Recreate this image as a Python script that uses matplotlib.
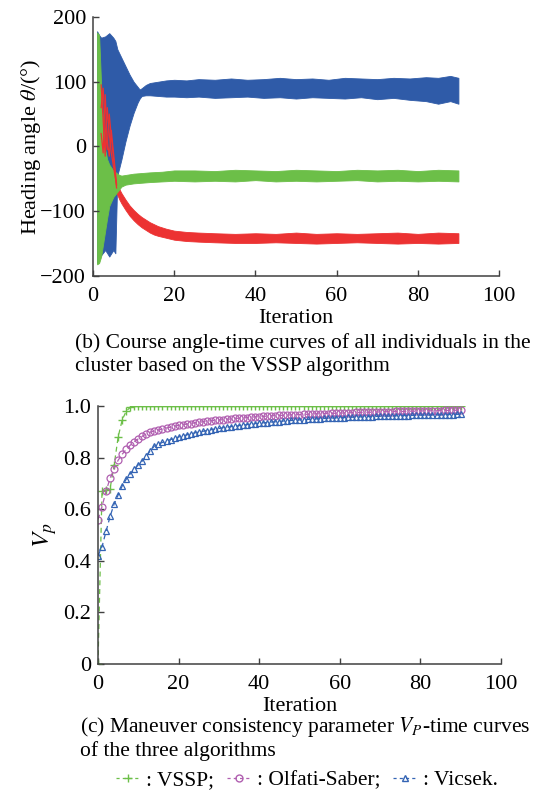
import matplotlib
matplotlib.use("Agg")
import matplotlib.pyplot as plt
from matplotlib.lines import Line2D

plt.rcParams["font.family"] = ["Liberation Serif", "DejaVu Serif"]
plt.rcParams["mathtext.fontset"] = "stix"
plt.rcParams["font.size"] = 16

BLUE = "#2f5ba8"
RED = "#ec3232"
GREEN = "#6cbf48"

# --- (b) heading angle bands: iteration, upper edge, lower edge ---
blue_x = [1, 1.5, 2, 3, 4, 5, 5.5, 6, 7, 8, 9, 10, 11, 11.5, 12, 13, 14, 16, 18, 20,
          23, 26, 30, 34, 38, 42, 46, 50, 54, 58, 62, 66, 70, 74, 78, 82, 85, 88, 90]
blue_hi = [178, 172, 168, 170, 175, 168, 163, 150, 137, 124, 111, 100, 92, 88, 90, 95, 98, 100, 102, 103,
           102, 104, 103, 105, 103, 104, 106, 104, 105, 103, 106, 105, 104, 106, 105, 107, 106, 109, 106]
blue_lo = [-180, -172, -168, -160, -170, -160, -165, -45, -20, 8, 32, 52, 68, 74, 78, 79, 79, 78, 77, 77,
           76, 77, 75, 76, 77, 75, 76, 74, 76, 75, 74, 76, 73, 75, 72, 70, 66, 70, 66]

red_x = [5.8, 6.5, 7, 8, 9, 10, 11, 12, 13, 14, 15, 16, 18, 20, 23, 26, 30, 35, 40,
         45, 50, 55, 60, 65, 70, 75, 80, 85, 90]
red_hi = [-56, -66, -72, -82, -91, -98, -104, -109, -113, -117, -120, -123, -127, -130, -132, -133, -134, -135, -134,
          -135, -133, -135, -134, -135, -134, -133, -135, -133, -134]
red_lo = [-72, -82, -88, -98, -107, -114, -120, -125, -129, -133, -136, -138, -141, -144, -146, -147, -148, -149, -149,
          -148, -149, -150, -149, -148, -149, -150, -149, -150, -149]

# a few individual red trajectories in the transient phase
red_lines_x = [2, 2.5, 3, 3.5, 4, 4.5, 5.8]
red_lines_y = [
    [95, 40, -15, 60, 20, -10, -60],
    [60, 90, 30, -5, 50, 15, -64],
    [20, -10, 80, 10, -15, 25, -58],
]

green_x = [1, 1.5, 2, 2.5, 3, 3.5, 4, 5, 6, 6.5, 7, 8, 10, 12, 14, 17, 20, 25, 30,
           35, 40, 45, 50, 55, 60, 65, 70, 75, 80, 85, 90]
green_hi = [176, 172, 95, 30, -5, -20, -28, -37, -42, -44, -45, -44, -42, -41, -40, -39, -37, -37, -38,
            -36, -37, -38, -36, -37, -38, -36, -37, -36, -38, -36, -37]
green_lo = [-182, -180, -170, -150, -130, -110, -92, -78, -70, -66, -62, -59, -57, -56, -55, -54, -53, -54, -53,
            -54, -52, -54, -53, -54, -53, -52, -54, -53, -54, -53, -54]

# --- (c) consistency parameter V_p ---
iteration = list(range(0, 91))
vssp = [0.0, 0.67, 0.675, 0.68, 0.77, 0.88, 0.946, 0.98, 0.995, 1.0,
        1.0, 1.0, 1.0, 1.0, 1.0, 1.0, 1.0, 1.0, 1.0, 1.0,
        1.0, 1.0, 1.0, 1.0, 1.0, 1.0, 1.0, 1.0, 1.0, 1.0,
        1.0, 1.0, 1.0, 1.0, 1.0, 1.0, 1.0, 1.0, 1.0, 1.0,
        1.0, 1.0, 1.0, 1.0, 1.0, 1.0, 1.0, 1.0, 1.0, 1.0,
        1.0, 1.0, 1.0, 1.0, 1.0, 1.0, 1.0, 1.0, 1.0, 1.0,
        1.0, 1.0, 1.0, 1.0, 1.0, 1.0, 1.0, 1.0, 1.0, 1.0,
        1.0, 1.0, 1.0, 1.0, 1.0, 1.0, 1.0, 1.0, 1.0, 1.0,
        1.0, 1.0, 1.0, 1.0, 1.0, 1.0, 1.0, 1.0, 1.0, 1.0, 1.0]
olfati = [0.56, 0.61, 0.67, 0.72, 0.757, 0.79, 0.813, 0.832, 0.848, 0.862,
          0.873, 0.883, 0.892, 0.899, 0.903, 0.907, 0.911, 0.915, 0.918, 0.922,
          0.925, 0.928, 0.930, 0.932, 0.935, 0.937, 0.939, 0.941, 0.943, 0.944,
          0.946, 0.947, 0.949, 0.950, 0.952, 0.953, 0.954, 0.955, 0.957, 0.958,
          0.959, 0.960, 0.961, 0.962, 0.963, 0.964, 0.964, 0.965, 0.966, 0.966,
          0.967, 0.968, 0.968, 0.969, 0.970, 0.970, 0.971, 0.971, 0.972, 0.972,
          0.973, 0.973, 0.974, 0.974, 0.975, 0.975, 0.976, 0.976, 0.976, 0.977,
          0.977, 0.978, 0.978, 0.978, 0.979, 0.979, 0.979, 0.980, 0.980, 0.980,
          0.981, 0.981, 0.981, 0.982, 0.982, 0.982, 0.983, 0.983, 0.983, 0.984, 0.984]
vicsek = [0.42, 0.455, 0.514, 0.572, 0.62, 0.655, 0.69, 0.716, 0.737, 0.755,
          0.772, 0.787, 0.806, 0.827, 0.845, 0.853, 0.859, 0.865, 0.870, 0.875,
          0.880, 0.884, 0.888, 0.892, 0.896, 0.899, 0.902, 0.905, 0.908, 0.911,
          0.913, 0.916, 0.918, 0.920, 0.922, 0.924, 0.926, 0.928, 0.930, 0.932,
          0.933, 0.935, 0.936, 0.938, 0.939, 0.940, 0.942, 0.943, 0.944, 0.945,
          0.946, 0.947, 0.948, 0.949, 0.950, 0.951, 0.952, 0.952, 0.953, 0.954,
          0.955, 0.955, 0.956, 0.957, 0.957, 0.958, 0.958, 0.959, 0.959, 0.960,
          0.960, 0.961, 0.961, 0.962, 0.962, 0.963, 0.963, 0.963, 0.964, 0.964,
          0.965, 0.965, 0.965, 0.966, 0.966, 0.966, 0.967, 0.967, 0.967, 0.968, 0.968]


def style_axes(ax):
    for side in ["top", "right"]:
        ax.spines[side].set_visible(False)
    for side in ["left", "bottom"]:
        ax.spines[side].set_color("#404040")
        ax.spines[side].set_linewidth(1.1)
    ax.tick_params(direction="in", length=4, width=1.0, color="#404040", labelsize=16)
    ax.tick_params(axis="x", pad=8)
    ax.tick_params(axis="y", pad=5)


def main():
    fig = plt.figure(figsize=(5.34, 7.96), dpi=100)

    # (b)
    ax1 = fig.add_axes([0.1742, 0.6533, 0.7603, 0.3254])
    ax1.fill_between(blue_x, blue_lo, blue_hi, color=BLUE, lw=0.6, edgecolor=BLUE)
    for ys in red_lines_y:
        ax1.plot(red_lines_x, ys, color=RED, lw=0.9)
    ax1.fill_between(red_x, red_lo, red_hi, color=RED, lw=0.6, edgecolor=RED)
    ax1.fill_between(green_x, green_lo, green_hi, color=GREEN, lw=0.6, edgecolor=GREEN)
    ax1.set_xlim(0, 100)
    ax1.set_ylim(-200, 200)
    ax1.set_xticks([0, 20, 40, 60, 80, 100])
    ax1.set_yticks([-200, -100, 0, 100, 200])
    ax1.set_xlabel("Iteration", fontsize=16, labelpad=2)
    ax1.set_ylabel("Heading angle $\\theta$/(°)", fontsize=16, labelpad=-2)
    style_axes(ax1)

    fig.text(0.140, 1 - 343 / 796, "(b) Course angle-time curves of all individuals in the",
             fontsize=15.5, va="center", ha="left")
    fig.text(0.140, 1 - 367 / 796, "cluster based on the VSSP algorithm",
             fontsize=15.5, va="center", ha="left")

    # (c)
    ax2 = fig.add_axes([0.1835, 0.1658, 0.7547, 0.3241])
    ax2.plot(iteration, vssp, ls="--", lw=0.9, color=GREEN, marker="+", ms=6, mew=1.0, dashes=(4, 3))
    ax2.plot(iteration, olfati, ls="--", lw=0.9, color="#b05fb0", marker="o", ms=5, mfc="none",
             mew=0.9, dashes=(4, 3))
    ax2.plot(iteration, vicsek, ls="--", lw=0.9, color="#3464b4", marker="^", ms=5, mfc="none",
             mew=0.9, dashes=(4, 3))
    ax2.set_xlim(0, 100)
    ax2.set_ylim(0, 1.0)
    ax2.set_xticks([0, 20, 40, 60, 80, 100])
    ax2.set_yticks([0, 0.2, 0.4, 0.6, 0.8, 1.0])
    ax2.set_yticklabels(["0", "0.2", "0.4", "0.6", "0.8", "1.0"])
    ax2.set_xlabel("Iteration", fontsize=16, labelpad=2)
    ax2.set_ylabel("$V_p$", fontsize=18, labelpad=3)
    style_axes(ax2)

    fig.text(0.150, 1 - 727 / 796, "(c) Maneuver consistency parameter $V_P$-time curves",
             fontsize=15.5, va="center", ha="left")
    fig.text(0.150, 1 - 751 / 796, "of the three algorithms",
             fontsize=15.5, va="center", ha="left")

    handles = [
        Line2D([], [], color=GREEN, ls="--", lw=0.9, marker="+", ms=6, dashes=(2.5, 2.5)),
        Line2D([], [], color="#b05fb0", ls="--", lw=0.9, marker="o", ms=5, mfc="none", dashes=(2.5, 2.5)),
        Line2D([], [], color="#3464b4", ls="--", lw=0.9, marker="^", ms=5, mfc="none", dashes=(2.5, 2.5)),
    ]
    fig.legend(handles, [": VSSP;", ": Olfati-Saber;", ": Vicsek."], ncol=3, frameon=False,
               loc="center", bbox_to_anchor=(0.575, 1 - 780 / 796), fontsize=15.5,
               handlelength=1.1, handletextpad=0.3, columnspacing=0.6, borderpad=0)

    fig.savefig("out.png", dpi=100)


if __name__ == "__main__":
    main()
